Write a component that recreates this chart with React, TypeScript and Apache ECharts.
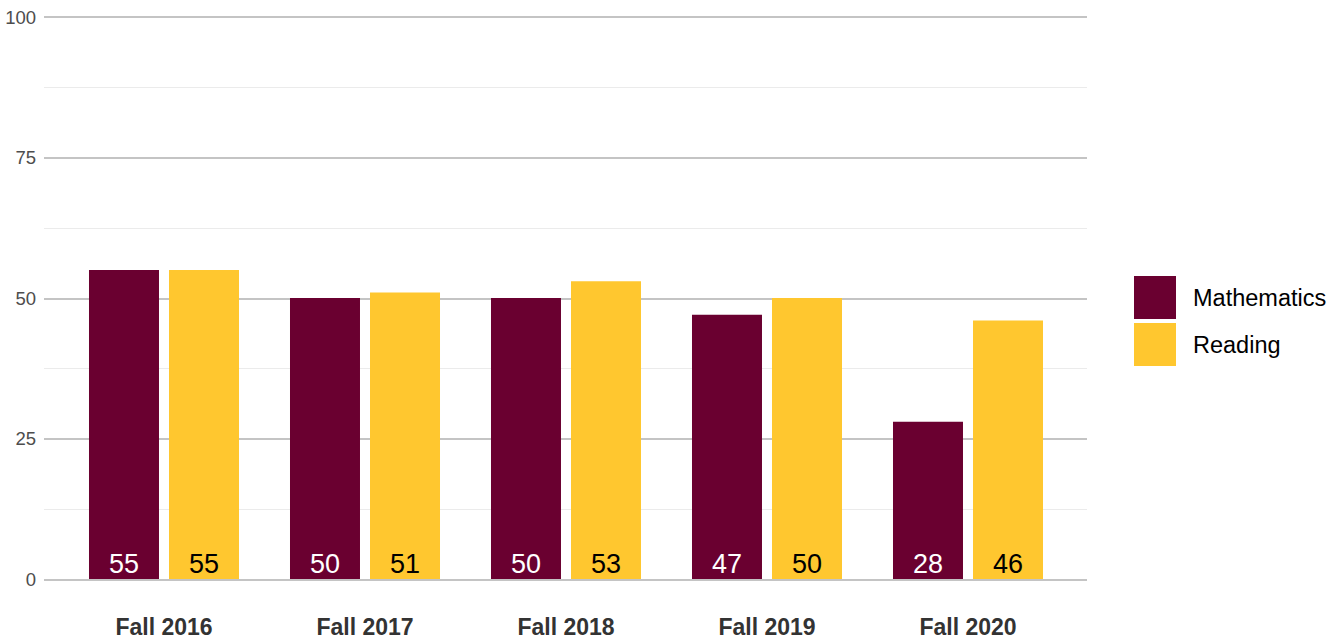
import React, { useEffect, useRef } from "react";
import * as echarts from "echarts";

const categories = ["Fall 2016", "Fall 2017", "Fall 2018", "Fall 2019", "Fall 2020"];
const mathematics = [55, 50, 50, 47, 28];
const reading = [55, 51, 53, 50, 46];
const seriesNames = ["Mathematics", "Reading"];
const yTicks = [0, 25, 50, 75, 100];

const MAROON = "#6A0030";
const GOLD = "#FFC72F";
const FONT = "Liberation Sans, Arial, sans-serif";

export default function App() {
  const ref = useRef<HTMLDivElement>(null);
  useEffect(() => {
    if (!ref.current) return;
    const chart = echarts.init(ref.current, undefined, { renderer: "svg" });
    chart.setOption({
      animation: false,
      backgroundColor: "#ffffff",
      textStyle: { fontFamily: FONT },
      grid: [
        { left: 44, right: 257, top: 17, bottom: 58.5 },
        { left: 63.5, width: 1005, top: 17, bottom: 58.5 },
      ],
      legend: {
        orient: "vertical",
        left: 1134,
        top: 276,
        padding: 0,
        itemWidth: 42,
        itemHeight: 43,
        itemGap: 4,
        icon: "rect",
        data: seriesNames,
        textStyle: { fontSize: 23.5, color: "#000", fontFamily: FONT, padding: [0, 0, 0, 12] },
      },
      xAxis: [
        { gridIndex: 0, type: "value", min: 0, max: 1, show: false },
        {
          gridIndex: 1,
          type: "category",
          data: categories,
          axisLine: { show: false },
          axisTick: { show: false },
          axisLabel: {
            margin: 36,
            fontSize: 23,
            fontWeight: "bold",
            color: "#333333",
            fontFamily: FONT,
          },
        },
      ],
      yAxis: [
        {
          gridIndex: 0,
          type: "value",
          min: yTicks[0],
          max: yTicks[yTicks.length - 1],
          interval: 25,
          axisLine: { show: false },
          axisTick: { show: false },
          axisLabel: { margin: 8, fontSize: 18.5, color: "#4d4d4d", fontFamily: FONT },
          splitLine: { show: true, lineStyle: { color: "#c4c4c4", width: 2 } },
          minorTick: { show: false, splitNumber: 2 },
          minorSplitLine: { show: true, lineStyle: { color: "#ebebeb", width: 1 } },
        },
        {
          gridIndex: 1,
          type: "value",
          min: 0,
          max: 100,
          show: false,
          splitLine: { show: false },
        },
      ],
      series: [
        {
          name: seriesNames[0],
          type: "bar",
          xAxisIndex: 1,
          yAxisIndex: 1,
          data: mathematics,
          barWidth: 70,
          barGap: "14.3%",
          itemStyle: { color: MAROON },
          label: {
            show: true,
            position: "insideBottom",
            distance: 2,
            fontSize: 27,
            color: "#ffffff",
            fontFamily: FONT,
          },
        },
        {
          name: seriesNames[1],
          type: "bar",
          xAxisIndex: 1,
          yAxisIndex: 1,
          data: reading,
          barWidth: 70,
          barGap: "14.3%",
          itemStyle: { color: GOLD },
          label: {
            show: true,
            position: "insideBottom",
            distance: 2,
            fontSize: 27,
            color: "#000000",
            fontFamily: FONT,
          },
        },
      ],
    });
    return () => chart.dispose();
  }, []);
  return (
    <div
      ref={ref}
      style={{ position: "fixed", left: 0, top: 0, width: 1344, height: 638 }}
    />
  );
}
